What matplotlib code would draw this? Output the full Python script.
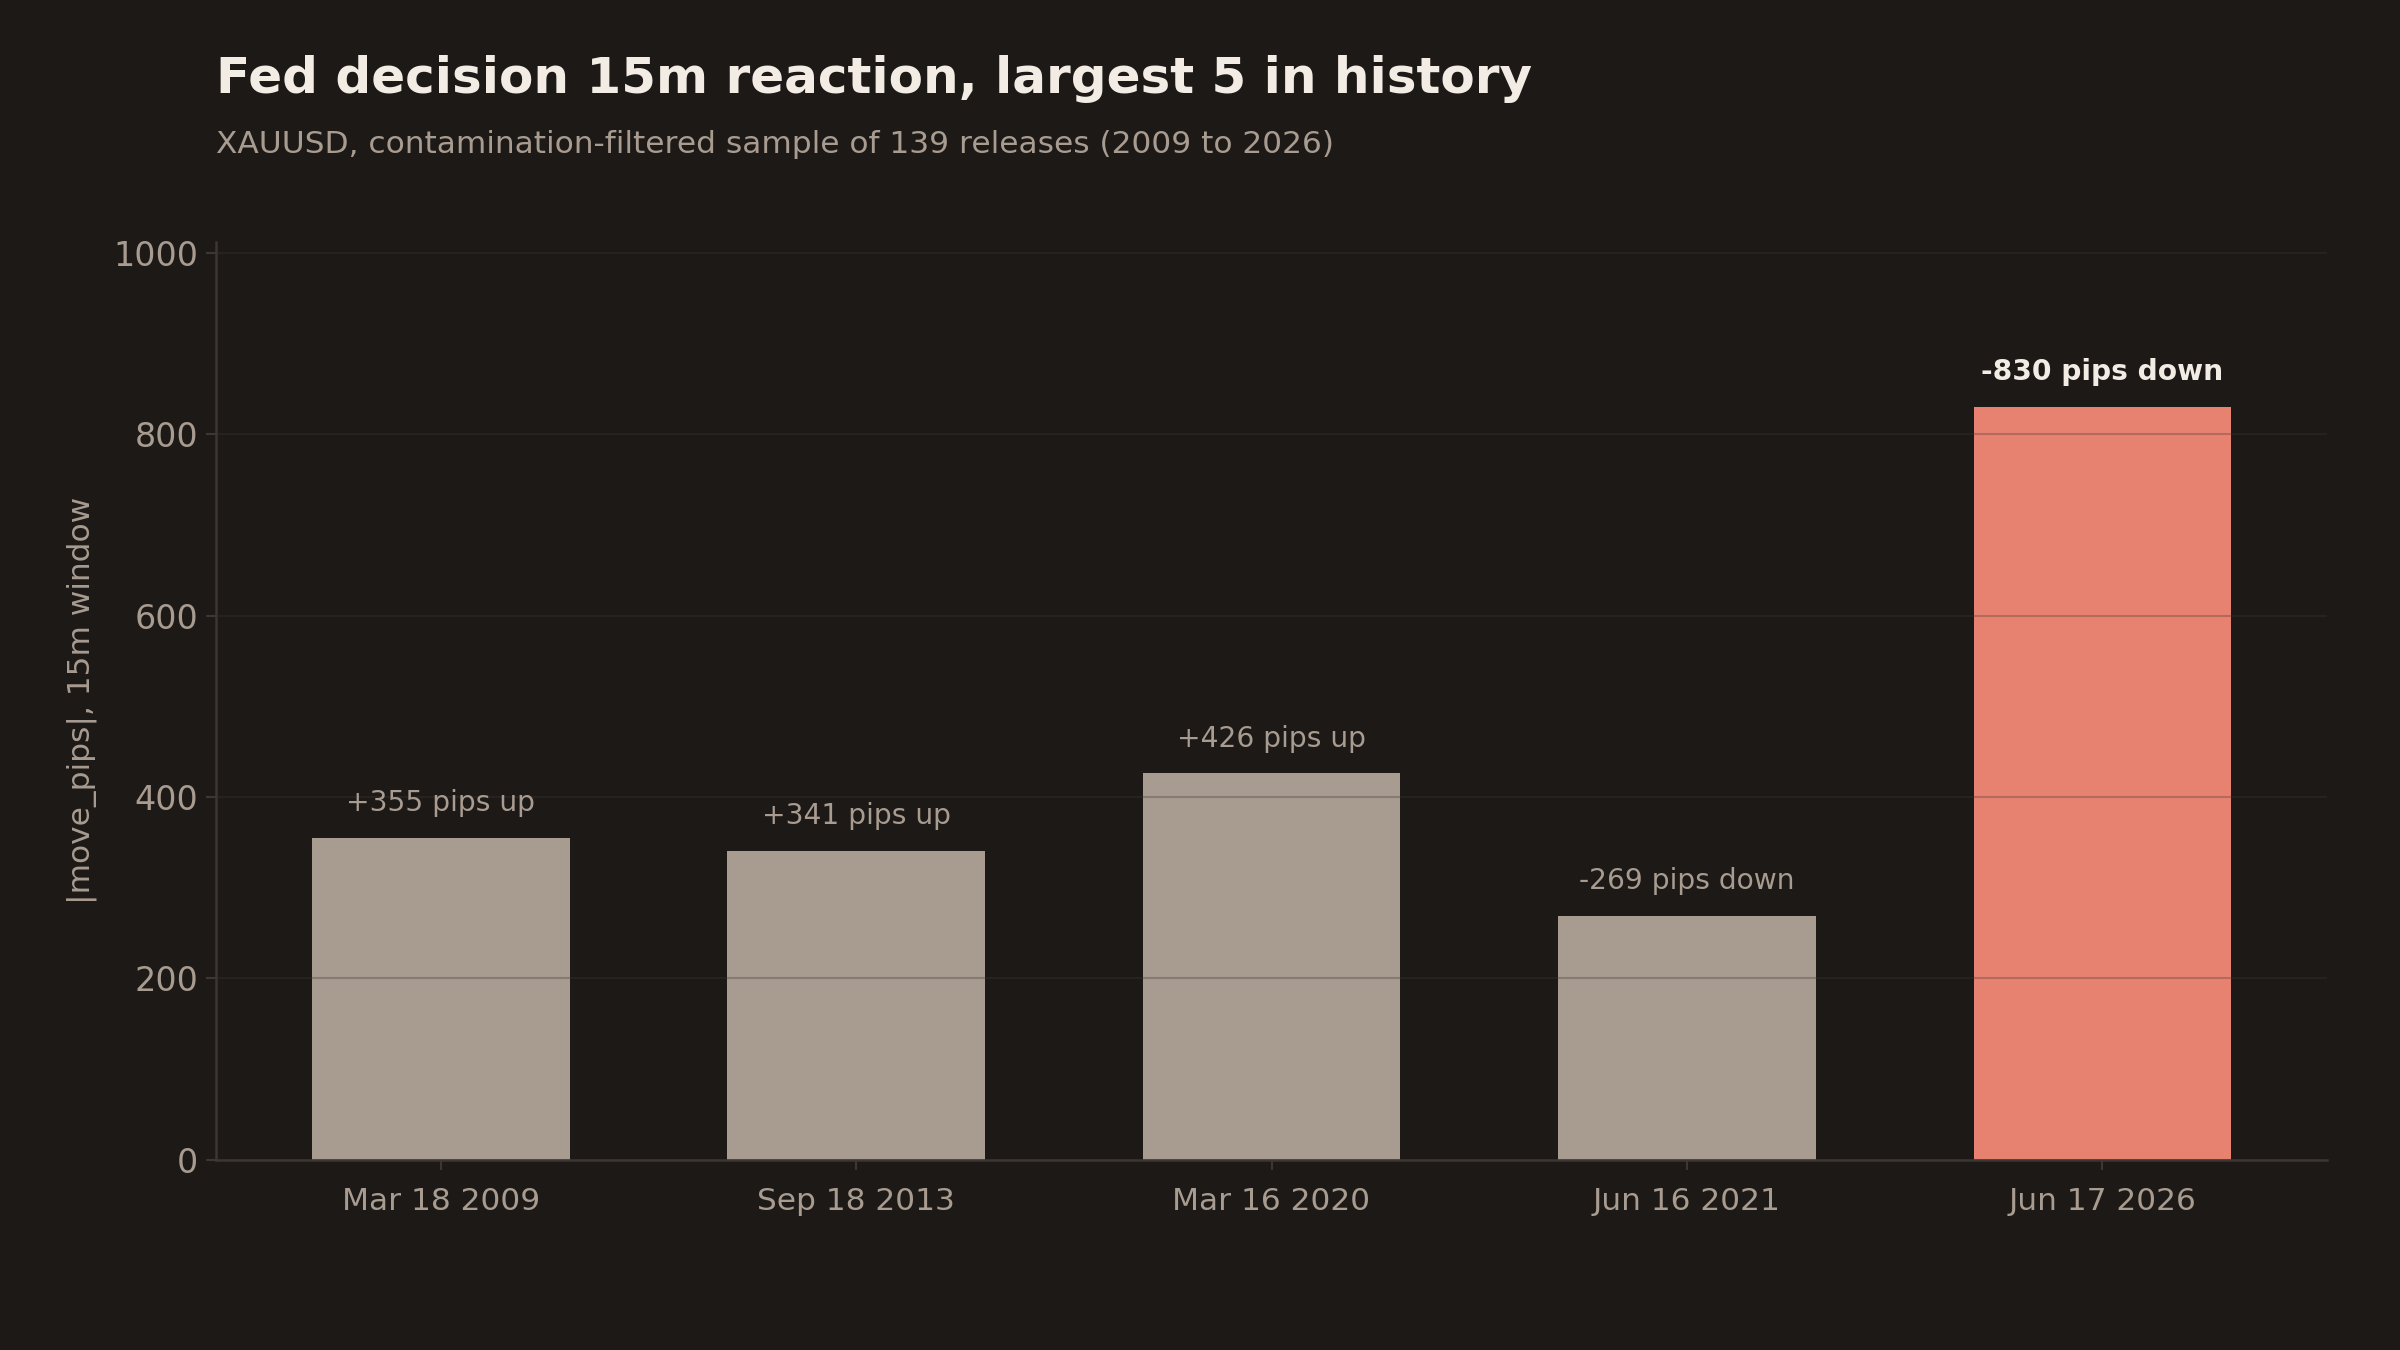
import matplotlib
matplotlib.use("Agg")
import matplotlib.pyplot as plt

# Data
dates = ["Mar 18 2009", "Sep 18 2013", "Mar 16 2020", "Jun 16 2021", "Jun 17 2026"]
move_pips = [355, 341, 426, 269, 830]
direction = ["up", "up", "up", "down", "down"]
highlight = [False, False, False, False, True]

# Style
BG = "#1c1917"
BAR = "#a89b90"
HL = "#e6826f"
TITLE_C = "#f2ece4"
MUTED = "#a89b90"
SPINE = "#3d3632"

plt.rcParams["font.family"] = ["DejaVu Sans"]

fig = plt.figure(figsize=(16, 9), dpi=150)
fig.patch.set_facecolor(BG)
ax = fig.add_axes([0.09, 0.141, 0.8796, 0.68])
ax.set_facecolor(BG)

x = list(range(len(dates)))
colors = [HL if h else BAR for h in highlight]
bars = ax.bar(x, move_pips, width=0.62, color=colors, zorder=1)

ax.set_ylim(0, max(move_pips) * 1.22)
ax.set_yticks([0, 200, 400, 600, 800, 1000])
ax.set_xticks(x)
ax.set_xticklabels(dates)

# grid drawn on top of bars, translucent
ax.set_axisbelow(False)
ax.grid(axis="y", color="#3c3732", alpha=0.3, linewidth=1.0, zorder=3)
ax.grid(axis="x", visible=False)

for s in ["top", "right"]:
    ax.spines[s].set_visible(False)
for s in ["left", "bottom"]:
    ax.spines[s].set_color(SPINE)
    ax.spines[s].set_linewidth(1.2)

ax.tick_params(axis="both", colors=SPINE, labelcolor=MUTED, length=5, width=1)
ax.tick_params(axis="y", labelsize=16)
ax.tick_params(axis="x", labelsize=15, pad=8)
ax.set_ylabel("|move_pips|, 15m window", color=MUTED, fontsize=15, labelpad=8)

for xi, v, d, h in zip(x, move_pips, direction, highlight):
    sign = "+" if d == "up" else "-"
    label = f"{sign}{v} pips {d}"
    ax.annotate(label, (xi, v), xytext=(0, 10), textcoords="offset points",
                ha="center", va="bottom",
                fontsize=13.5, color=TITLE_C if h else MUTED,
                fontweight="bold" if h else "normal")

fig.text(0.09, 0.959, "Fed decision 15m reaction, largest 5 in history",
         color=TITLE_C, fontsize=24, fontweight="bold", ha="left", va="top")
fig.text(0.09, 0.904, "XAUUSD, contamination-filtered sample of 139 releases (2009 to 2026)",
         color=MUTED, fontsize=15, ha="left", va="top")

fig.savefig("out.png", dpi=150, facecolor=BG)
